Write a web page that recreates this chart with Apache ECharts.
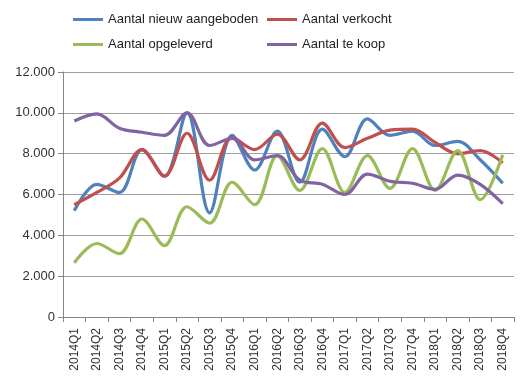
<!DOCTYPE html>
<html>
<head>
<meta charset="utf-8">
<script src="https://cdn.jsdelivr.net/npm/echarts@6/dist/echarts.min.js"></script>
<style>html,body{margin:0;padding:0;background:#fff}#c{width:525px;height:382px}</style>
</head>
<body>
<div id="c"></div>
<script>
const categories = ['2014Q1','2014Q2','2014Q3','2014Q4','2015Q1','2015Q2','2015Q3','2015Q4','2016Q1','2016Q2','2016Q3','2016Q4','2017Q1','2017Q2','2017Q3','2017Q4','2018Q1','2018Q2','2018Q3','2018Q4'];
const nieuwAangeboden = [5200,6500,6100,8200,6900,10000,5100,8900,7200,9100,6600,9200,7850,9700,8900,9100,8400,8600,7700,6550];
const verkocht = [5500,6100,6800,8200,6900,9000,6700,8800,8200,8950,7700,9500,8300,8750,9150,9200,8550,8000,8150,7550];
const opgeleverd = [2650,3600,3100,4800,3500,5400,4600,6600,5500,7900,6200,8250,6100,7900,6300,8250,6200,8150,5750,7950];
const teKoop = [9600,9950,9250,9050,8900,10000,8400,8750,7700,7900,6700,6500,6000,7000,6650,6550,6250,6950,6500,5550];
const seriesNames = ['Aantal nieuw aangeboden','Aantal verkocht','Aantal opgeleverd','Aantal te koop'];
const colors = ['#4f81bd','#c0504d','#9bbb59','#8064a2'];
const yTicks = [0,2000,4000,6000,8000,10000,12000];

const chart = echarts.init(document.getElementById('c'));
const font = 'Liberation Sans, Arial, sans-serif';
const fmt = v => v === 0 ? '0' : String(v).replace(/\B(?=(\d{3})+(?!\d))/g, '.');
const mk = (name, data, color) => ({
  name, type: 'line', data, smooth: 0.35, symbol: 'none',
  lineStyle: { color, width: 3.2 }, itemStyle: { color }
});
const leg = (left, top, name) => ({
  left, top, padding: 0, itemWidth: 30, itemHeight: 3, itemGap: 4, icon: 'rect',
  textStyle: { fontSize: 13, color: '#222', fontFamily: font },
  data: [name]
});
chart.setOption({
  animation: false,
  color: colors,
  textStyle: { fontFamily: font },
  legend: [
    leg(73, 13, seriesNames[0]),
    leg(267, 13, seriesNames[1]),
    leg(73, 38, seriesNames[2]),
    leg(267, 38, seriesNames[3])
  ],
  grid: { left: 63, right: 11, top: 72, bottom: 65 },
  xAxis: {
    type: 'category', data: categories, boundaryGap: true,
    axisLine: { lineStyle: { color: '#868686', width: 1 } },
    axisTick: { show: true, length: 5, lineStyle: { color: '#868686' }, alignWithLabel: false },
    axisLabel: { rotate: 90, fontSize: 12, color: '#333', margin: 11, fontFamily: font, interval: 0 }
  },
  yAxis: {
    type: 'value', min: yTicks[0], max: yTicks[yTicks.length - 1], interval: yTicks[1] - yTicks[0],
    axisLine: { show: true, lineStyle: { color: '#868686', width: 1 } },
    axisTick: { show: true, length: 5, lineStyle: { color: '#868686' } },
    splitLine: { lineStyle: { color: '#a0a0a0', width: 1 } },
    axisLabel: { fontSize: 13, color: '#333', margin: 8, formatter: fmt, fontFamily: font }
  },
  series: [
    mk(seriesNames[0], nieuwAangeboden, colors[0]),
    mk(seriesNames[1], verkocht, colors[1]),
    mk(seriesNames[2], opgeleverd, colors[2]),
    mk(seriesNames[3], teKoop, colors[3])
  ]
});
</script>
</body>
</html>
